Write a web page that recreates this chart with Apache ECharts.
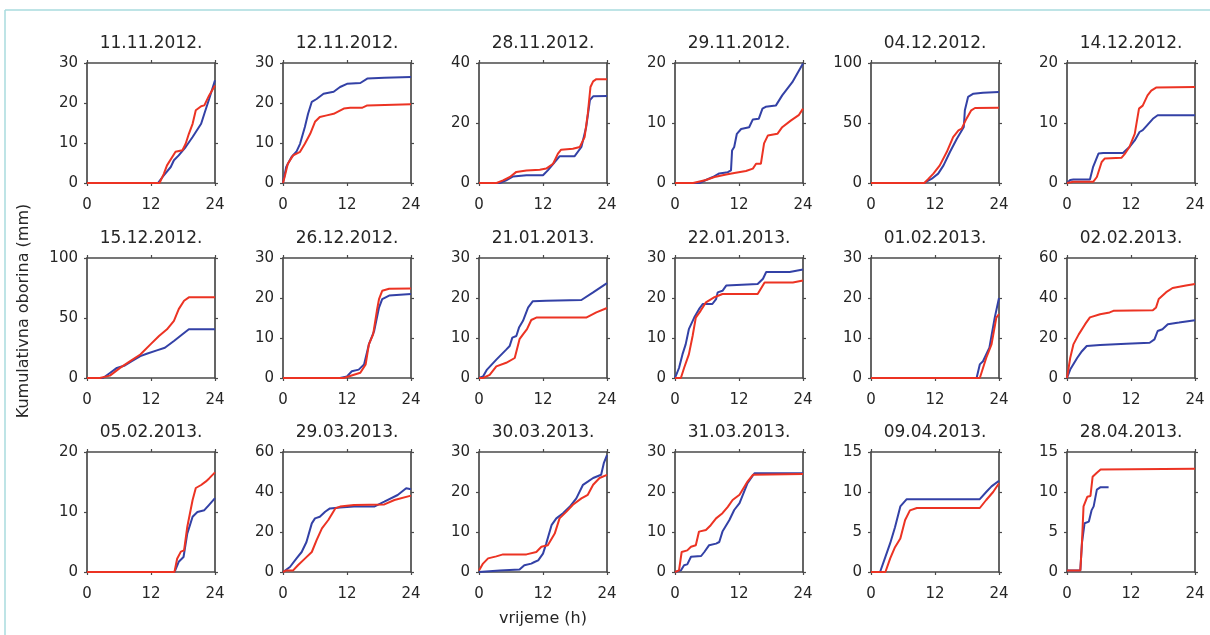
<!DOCTYPE html>
<html>
<head>
<meta charset="utf-8">
<script src="https://cdn.jsdelivr.net/npm/echarts@6/dist/echarts.min.js"></script>
<style>
html, body { margin: 0; padding: 0; background: #fff; }
#main { width: 1210px; height: 635px; }
</style>
</head>
<body>
<div id="main"></div>
<script>
// naslovi panela i osi
var titles = ['11.11.2012.', '12.11.2012.', '28.11.2012.', '29.11.2012.', '04.12.2012.', '14.12.2012.',
	'15.12.2012.', '26.12.2012.', '21.01.2013.', '22.01.2013.', '01.02.2013.', '02.02.2013.',
	'05.02.2013.', '29.03.2013.', '30.03.2013.', '31.03.2013.', '09.04.2013.', '28.04.2013.'];
var yMax = [30, 30, 40, 20, 100, 20, 100, 30, 30, 30, 30, 60, 20, 60, 30, 30, 15, 15];
var yStep = [10, 10, 20, 10, 50, 10, 50, 10, 10, 10, 10, 20, 10, 20, 10, 10, 5, 5];
var xTicks = [0, 12, 24];

// [sat, mm]
var b01 = [[0,0],[13.3,0],[14.4,1.9],[15.7,4],[16.3,5.7],[17.2,6.9],[18.5,9],[19.8,11.5],[21.4,14.8],[22,17.3],[22.9,21],[24,25.7]];
var r01 = [[0,0],[13.6,0],[14.4,2.3],[15,4.4],[16.6,7.8],[17.9,8.2],[18.5,9.8],[19.1,12.3],[19.8,14.8],[20.4,18.2],[21.4,19.2],[22,19.4],[22.9,21.9],[24,24.4]];
var b02 = [[0,0],[0.6,4],[1.6,6.5],[2.5,7.8],[3.2,9.8],[4.1,14],[4.7,17.3],[5.4,20.3],[6.3,21],[7.6,22.3],[9.5,22.8],[10.7,24],[12,24.8],[14.5,25],[15.8,26.1],[19,26.3],[24,26.5]];
var r02 = [[0,0],[0.3,1.5],[0.9,4.8],[1.9,6.9],[3.2,7.8],[4.1,9.8],[5.1,12.3],[6,15.3],[6.9,16.5],[8.2,16.9],[9.5,17.3],[11.4,18.6],[12.6,18.8],[14.8,18.8],[15.8,19.4],[24,19.7]];
var b03 = [[0,0],[3.9,0],[5.1,0.9],[6.4,2.2],[8.9,2.6],[12,2.6],[12.9,4.2],[14.2,7],[15.1,8.9],[17.9,8.9],[19.2,12],[20.1,18.7],[20.8,27.6],[21.4,28.9],[24,29]];
var r03 = [[0,0],[3.3,0],[4.5,0.9],[5.8,2],[7,3.7],[8.9,4.2],[11.4,4.4],[12.6,4.8],[13.9,6.4],[14.8,9.8],[15.4,11.1],[17.6,11.4],[18.9,12],[19.8,15.3],[20.4,23.1],[20.9,32],[21.4,33.9],[22,34.6],[24,34.6]];
var b04 = [[0,0],[4.6,0],[5.8,0.5],[7.1,1],[8.3,1.6],[9.9,1.8],[10.5,2.1],[10.7,5.4],[11.1,6],[11.6,8.2],[12.4,9],[13.9,9.3],[14.6,10.6],[15.7,10.7],[16.4,12.4],[17,12.7],[18.9,12.9],[20.1,14.6],[22,16.8],[24,19.9]];
var r04 = [[0,0],[3.4,0],[5.8,0.5],[7.4,1],[9.6,1.4],[11.4,1.7],[13.3,2],[14.6,2.4],[15.2,3.2],[16.1,3.2],[16.7,6.6],[17.4,7.9],[19.2,8.2],[20.1,9.3],[21.7,10.4],[23.2,11.3],[24,12.4]];
var b05 = [[0,0],[10,0],[11.4,3.6],[12.6,7.8],[13.6,14.7],[14.8,25.8],[16.1,36.9],[17.4,46.7],[17.6,60.6],[18.2,71.7],[19.2,74.4],[21,75.3],[24,75.8]];
var r05 = [[0,0],[10,0],[10.8,3.6],[11.7,7.8],[12.9,14.7],[14.2,25.8],[15.4,38.3],[16.4,43.9],[17,45.3],[17.9,53.6],[18.8,60.6],[19.5,62.5],[24,62.8]];
var b06 = [[0,0],[0.6,0.5],[1.2,0.6],[4.3,0.6],[4.9,2.7],[5.9,4.9],[6.8,5],[10.5,5],[11.7,6],[12.7,7.1],[13.6,8.5],[14.2,8.8],[14.8,9.4],[16.1,10.7],[17,11.3],[24,11.3]];
var r06 = [[0,0],[1.2,0.2],[4.9,0.2],[5.6,1],[6.5,3.5],[7.1,4.1],[10.2,4.2],[10.8,4.8],[11.7,6],[12.7,8.2],[13.5,12.4],[14.2,12.9],[15.1,14.6],[15.8,15.4],[16.7,15.9],[24,16]];
var b07 = [[0,0],[3,0],[4.3,4.2],[5.6,8.4],[7.1,10.4],[8.4,14],[10,18.2],[11.2,20.2],[13.1,23],[14.6,25.2],[16.3,30.8],[17.9,36.4],[19.1,40.6],[24,40.6]];
var r07 = [[0,0],[2.4,0],[4.3,2],[6.2,8.4],[8.1,14],[10,19.6],[11.9,28],[13.5,35],[15,40.6],[16.3,47.6],[17.2,57.4],[18.2,64.4],[19.1,67.2],[24,67.2]];
var b08 = [[0,0],[10.7,0],[12,0.4],[12.9,1.7],[14.2,2.1],[15.2,3.4],[16.1,8.4],[17.1,11.8],[18,17.6],[18.6,19.7],[19.9,20.6],[24,21]];
var r08 = [[0,0],[11.4,0],[13.3,0.8],[14.5,1.3],[15.5,3.4],[16.1,8.4],[16.9,10.9],[17.6,16.8],[18,19.7],[18.6,21.8],[19.9,22.3],[24,22.4]];
var b09 = [[0,0],[0.75,0.4],[1.5,2.1],[3.25,4.6],[5.1,7.1],[5.75,8],[6.25,10.1],[7,10.5],[7.5,12.6],[8.25,14.3],[9.2,17.6],[10.1,19.2],[12.6,19.3],[19.2,19.5],[21.4,21.4],[24,23.7]];
var r09 = [[0,0],[0.75,0],[2,0.8],[3.25,2.9],[5.1,3.8],[6.7,5],[7.6,9.7],[8.25,10.9],[9,12.2],[9.8,14.5],[10.75,15.1],[20.1,15.1],[22,16.4],[24,17.5]];
var b10 = [[0,0],[0.75,2.5],[1.4,5.9],[2,8.4],[2.6,12.2],[3.6,15.1],[4.5,17.2],[5.2,18.5],[7,18.5],[7.7,19.7],[8,21.4],[8.9,21.8],[9.6,23.1],[15.5,23.5],[16.5,24.8],[17.1,26.5],[21.5,26.5],[24,27.1]];
var r10 = [[0,0],[1.1,0],[1.7,2.5],[2.6,5.9],[3.3,10.5],[3.9,15.1],[4.8,16.8],[5.8,18.9],[7.4,20.2],[8.9,21],[15.5,21],[16.8,23.9],[22.1,23.9],[24,24.4]];
var b11 = [[0,0],[19.8,0],[20.4,3.4],[21,4.2],[21.6,5.9],[22.2,7.6],[23.2,15.1],[24,20]];
var r11 = [[0,0],[20.4,0],[21,2.5],[21.6,5],[22.6,8.4],[23.5,15.1],[24,16]];
var b12 = [[0,0],[0.6,4.2],[1.9,10],[2.8,13.4],[3.7,16],[6.2,16.5],[11.1,17.1],[15.5,17.6],[16.4,19.3],[17,23.5],[17.9,24.4],[18.9,26.9],[21,27.7],[24,28.9]];
var r12 = [[0,0],[0.6,10],[1.2,16.8],[2.2,21.8],[3.4,26.9],[4.3,30.3],[6.2,31.9],[8,32.8],[8.7,33.6],[16.1,33.9],[16.7,35.3],[17.2,39.5],[18.6,42.9],[19.8,45],[22.3,46.2],[24,47]];
var b13 = [[0,0],[16.4,0],[17.2,1.7],[18.1,2.5],[18.8,6.4],[19.8,9.2],[20.7,10],[22,10.3],[22.9,11.2],[24,12.3]];
var r13 = [[0,0],[16.4,0],[16.9,2.2],[17.6,3.4],[18.2,3.6],[18.8,7.5],[19.8,12],[20.4,14],[21.4,14.5],[22.3,15.1],[22.9,15.6],[24,16.6]];
var b14 = [[0,0],[1.3,2.5],[2.5,6.7],[3.5,10],[4.4,15],[5.4,24.3],[6,26.8],[6.9,27.6],[7.9,30.1],[8.8,31.8],[10.7,32.2],[13.3,32.7],[17.1,32.7],[19,35.2],[21.5,38.5],[23.1,41.9],[24,41.4]];
var r14 = [[0,0],[0.6,0.8],[1.9,0.8],[2.8,3.4],[4.1,6.7],[5.4,10],[6.3,15.9],[7.3,21.8],[8.5,26],[9.8,31.8],[10.7,32.7],[13.3,33.5],[19,33.8],[20.9,36],[24,38.2]];
var b15 = [[0,0],[3.9,0.4],[7.6,0.6],[8.5,1.7],[9.8,2.1],[10.4,2.5],[11.1,2.9],[12,4.6],[12.6,7.1],[13.6,11.7],[14.5,13.4],[15.75,14.7],[17,16.3],[18.25,18.4],[19.5,21.8],[20.4,22.6],[21.4,23.5],[22.9,24.3],[23.4,27.2],[24,29.2]];
var r15 = [[0,0.4],[0.75,2.1],[1.7,3.4],[3.25,3.9],[4.5,4.4],[8.9,4.4],[10.75,5],[11.7,6.3],[12.9,6.7],[14.2,9.6],[15.1,13.4],[16.4,15.1],[17.6,16.8],[19.2,18.4],[20.4,19.3],[21.4,21.8],[22.6,23.5],[24,24.3]];
var b16 = [[0,0],[1.1,0.4],[1.7,1.7],[2.3,1.9],[3,3.8],[4.9,4],[5.5,5],[6.4,6.7],[7.7,7.1],[8.3,7.5],[8.9,10.1],[10.2,13],[11.1,15.5],[12.1,17.2],[13.6,22.2],[14.9,24.7],[24,24.7]];
var r16 = [[0,0],[0.75,0.4],[1.25,5],[2.3,5.4],[3,6.3],[3.9,6.7],[4.5,10.1],[5.8,10.5],[6.7,11.7],[7.7,13.4],[8.9,14.7],[9.9,16.3],[10.8,18],[12.1,19.3],[13.6,22.6],[14.6,24.3],[24,24.5]];
var b17 = [[0,0],[1.7,0],[2.7,1.9],[3.6,3.6],[4.5,5.6],[5.5,8.2],[6.7,9.1],[20.4,9.1],[21.6,10],[22.6,10.7],[24,11.4]];
var r17 = [[0,0],[2.7,0],[3.6,1.7],[4.5,3.1],[5.5,4.2],[6.4,6.5],[7.3,7.7],[8.6,8],[20.4,8],[21.6,9],[22.9,10],[24,11.1]];
var b18 = [[0,0.2],[2.5,0.2],[2.8,3.6],[3.3,6.1],[4.1,6.3],[4.6,7.7],[5,8.2],[5.6,10.3],[6.3,10.6],[7.8,10.6]];
var r18 = [[0,0.2],[2.5,0.2],[2.8,3.6],[3.1,8.2],[3.8,9.4],[4.4,9.5],[4.8,11.9],[5.6,12.4],[6.3,12.8],[24,12.9]];

var blueData = [b01,b02,b03,b04,b05,b06,b07,b08,b09,b10,b11,b12,b13,b14,b15,b16,b17,b18];
var redData = [r01,r02,r03,r04,r05,r06,r07,r08,r09,r10,r11,r12,r13,r14,r15,r16,r17,r18];

var myChart = echarts.init(document.getElementById('main'));
var colors = ['#3341a6', '#ec3323'];
var axisColor = '#4a4a4a';
var textColor = '#262626';
var font = 'DejaVu Sans';

var colLeft = [87, 283, 479, 675, 871, 1067];
var rowTop = [63, 258, 452];
var pw = 128, ph = 120;

var grids = [], xAxes = [], yAxes = [], series = [], graphics = [];

function lineAxis(show) {
	return {
		axisLine: { show: true, onZero: false, lineStyle: { color: axisColor, width: 1.7 } },
		axisTick: { show: true, inside: false, length: 3, lineStyle: { color: axisColor, width: 1.2 } },
		splitLine: { show: false },
		axisLabel: {
			show: show,
			color: textColor,
			fontFamily: font,
			fontSize: 15
		}
	};
}

for (var i = 0; i < titles.length; i++) {
	var c = i % 6, r = Math.floor(i / 6);
	grids.push({ left: colLeft[c], top: rowTop[r], width: pw, height: ph });

	// donja i gornja x os
	[ 'bottom', 'top' ].forEach(function(pos) {
		var ax = lineAxis(pos == 'bottom');
		ax.type = 'value';
		ax.gridIndex = i;
		ax.position = pos;
		ax.min = xTicks[0];
		ax.max = xTicks[xTicks.length - 1];
		ax.interval = xTicks[1] - xTicks[0];
		ax.axisLabel.margin = 15;
		xAxes.push(ax);
	});
	// lijeva i desna y os
	[ 'left', 'right' ].forEach(function(pos) {
		var ax = lineAxis(pos == 'left');
		ax.type = 'value';
		ax.gridIndex = i;
		ax.position = pos;
		ax.min = 0;
		ax.max = yMax[i];
		ax.interval = yStep[i];
		ax.axisLabel.margin = 9;
		yAxes.push(ax);
	});

	series.push({
		type: 'line', xAxisIndex: 2 * i, yAxisIndex: 2 * i,
		data: blueData[i], showSymbol: false, symbol: 'none',
		lineStyle: { color: colors[0], width: 2 }, z: 3
	});
	series.push({
		type: 'line', xAxisIndex: 2 * i, yAxisIndex: 2 * i,
		data: redData[i], showSymbol: false, symbol: 'none',
		lineStyle: { color: colors[1], width: 2 }, z: 4
	});

	graphics.push({
		type: 'text',
		x: colLeft[c] + pw / 2,
		y: rowTop[r] - 19,
		style: {
			text: titles[i],
			fill: textColor,
			font: '17px "' + font + '"',
			textAlign: 'center',
			textVerticalAlign: 'middle'
		}
	});
}

// okvir
graphics.push({ type: 'line', shape: { x1: 5, y1: 10, x2: 1210, y2: 10 }, style: { stroke: '#a8dbde', lineWidth: 1.5 } });
graphics.push({ type: 'line', shape: { x1: 5, y1: 10, x2: 5, y2: 635 }, style: { stroke: '#a8dbde', lineWidth: 1.5 } });

// nazivi osi
graphics.push({
	type: 'text', x: 24, y: 311, rotation: Math.PI / 2,
	style: { text: 'Kumulativna oborina (mm)', fill: textColor, font: '16px "' + font + '"', textAlign: 'center', textVerticalAlign: 'middle' }
});
graphics.push({
	type: 'text', x: 543, y: 619,
	style: { text: 'vrijeme (h)', fill: textColor, font: '16px "' + font + '"', textAlign: 'center', textVerticalAlign: 'middle' }
});

var option = {
	animation: false,
	backgroundColor: '#fff',
	grid: grids,
	xAxis: xAxes,
	yAxis: yAxes,
	series: series,
	graphic: graphics
};

myChart.setOption(option);
window.onresize = myChart.resize;
</script>
</body>
</html>
